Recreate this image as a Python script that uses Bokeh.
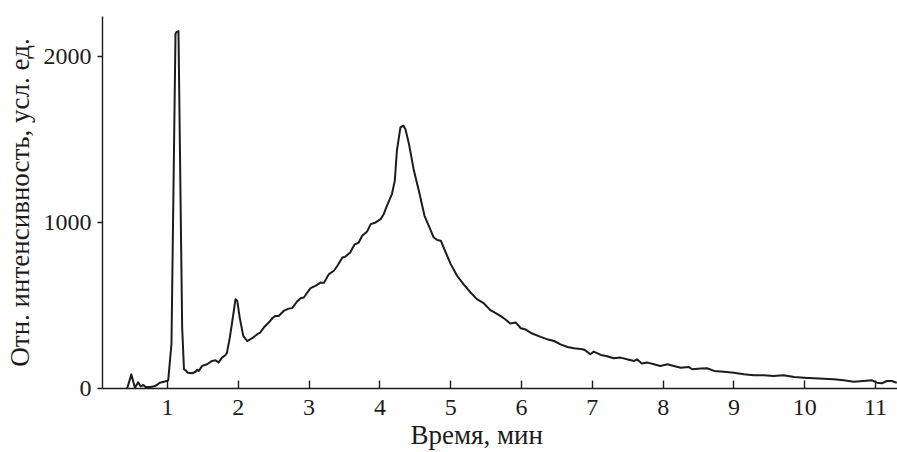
from bokeh.plotting import figure
from bokeh.models import Title, FixedTicker, Range1d
from bokeh.embed import file_html
from bokeh.resources import INLINE

# Retention time, min
time_min = [0.43, 0.49, 0.54, 0.586, 0.62, 0.66, 0.69, 0.76, 0.81, 0.85, 0.89, 0.95, 1.01,
            1.056, 1.113, 1.127, 1.155, 1.207, 1.233, 1.254, 1.287, 1.349, 1.395, 1.42, 1.44,
            1.49, 1.56, 1.63, 1.68, 1.72, 1.77, 1.82, 1.84, 1.88, 1.93, 1.96, 1.985, 2.02,
            2.07, 2.125, 2.196, 2.267, 2.31, 2.36, 2.43, 2.48, 2.525, 2.57, 2.64, 2.71, 2.76,
            2.83, 2.88, 2.925, 3.02, 3.09, 3.16, 3.21, 3.28, 3.35, 3.40, 3.47, 3.51, 3.58,
            3.64, 3.70, 3.75, 3.82, 3.87, 3.94, 4.01, 4.055, 4.10, 4.17, 4.21, 4.24, 4.29,
            4.33, 4.36, 4.41, 4.48, 4.55, 4.63, 4.71, 4.76, 4.81, 4.86, 4.90, 5.00, 5.09,
            5.18, 5.28, 5.37, 5.47, 5.56, 5.63, 5.70, 5.77, 5.84, 5.92, 5.99, 6.06, 6.15,
            6.27, 6.36, 6.46, 6.55, 6.65, 6.74, 6.86, 6.90, 6.97, 7.02, 7.12, 7.21, 7.30,
            7.40, 7.49, 7.59, 7.63, 7.70, 7.78, 7.87, 7.96, 8.06, 8.15, 8.25, 8.36, 8.41,
            8.53, 8.62, 8.72, 8.86, 9.00, 9.14, 9.28, 9.42, 9.56, 9.70, 9.85, 9.99, 10.13,
            10.27, 10.41, 10.55, 10.69, 10.83, 10.95, 11.02, 11.09, 11.16, 11.23, 11.30]

# Relative intensity, arb. units
intensity = [0, 85, 5, 37, 13, 21, 9, 9, 13, 21, 35, 41, 49,
             268, 2136, 2146, 2152, 367, 116, 110, 95, 92, 101, 113, 105,
             136, 146, 166, 170, 156, 186, 202, 216, 306, 447, 538, 528, 427,
             317, 286, 303, 327, 337, 367, 397, 423, 437, 437, 467, 481, 484,
             524, 544, 548, 604, 618, 638, 636, 689, 709, 739, 789, 793, 819,
             866, 879, 920, 946, 990, 1000, 1020, 1051, 1101, 1171, 1251, 1432, 1573,
             1583, 1563, 1473, 1312, 1191, 1040, 960, 909, 894, 890, 849, 749, 679,
             628, 578, 538, 512, 472, 455, 437, 417, 391, 397, 363, 355, 331,
             311, 297, 286, 266, 250, 242, 236, 230, 206, 222, 202, 194, 182,
             186, 176, 166, 176, 150, 156, 146, 136, 146, 136, 125, 130, 116,
             120, 122, 106, 101, 95, 86, 80, 80, 75, 80, 69, 65, 62,
             59, 55, 49, 41, 45, 49, 35, 31, 45, 45, 35]

x_ticks = [1, 2, 3, 4, 5, 6, 7, 8, 9, 10, 11]
y_ticks = [0, 1000, 2000]

FONT = "Liberation Serif"
INK = "#1c1c1c"

p = figure(width=897, height=452, output_backend="svg", toolbar_location=None,
           x_range=Range1d(0.082, 11.31), y_range=Range1d(0, 2240),
           min_border_left=102, min_border_right=0, min_border_top=16, min_border_bottom=64)

p.line(time_min, intensity, line_color=INK, line_width=2.0, line_join="round")

p.grid.visible = False
p.outline_line_color = None
p.background_fill_color = "white"
p.border_fill_color = "white"

xa = p.xaxis[0]
xa.ticker = FixedTicker(ticks=x_ticks)
xa.minor_tick_line_color = None
xa.major_tick_in = 8
xa.major_tick_out = 0
xa.major_label_standoff = 11
xa.axis_line_width = 1.6
xa.axis_line_color = INK
xa.major_tick_line_color = INK
xa.major_tick_line_width = 1.4
xa.major_label_text_font = FONT
xa.major_label_text_font_size = "24px"
xa.major_label_text_color = INK

ya = p.yaxis[0]
ya.ticker = FixedTicker(ticks=y_ticks)
ya.minor_tick_line_color = None
ya.major_tick_in = 0
ya.major_tick_out = 5
ya.major_label_standoff = 6
ya.axis_line_width = 1.4
ya.axis_line_color = INK
ya.major_tick_line_color = INK
ya.major_tick_line_width = 1.4
ya.major_label_text_font = FONT
ya.major_label_text_font_size = "24px"
ya.major_label_text_color = INK
ya.axis_label = "Отн. интенсивность, усл. ед."
ya.axis_label_text_font = FONT
ya.axis_label_text_font_size = "27px"
ya.axis_label_text_font_style = "normal"
ya.axis_label_text_color = INK
ya.axis_label_standoff = 6

p.add_layout(Title(text="Время, мин", align="left", offset=308, standoff=1,
                   text_font=FONT, text_font_size="27px", text_font_style="normal",
                   text_color=INK), "below")

open("out.html", "w").write(file_html(p, INLINE))
